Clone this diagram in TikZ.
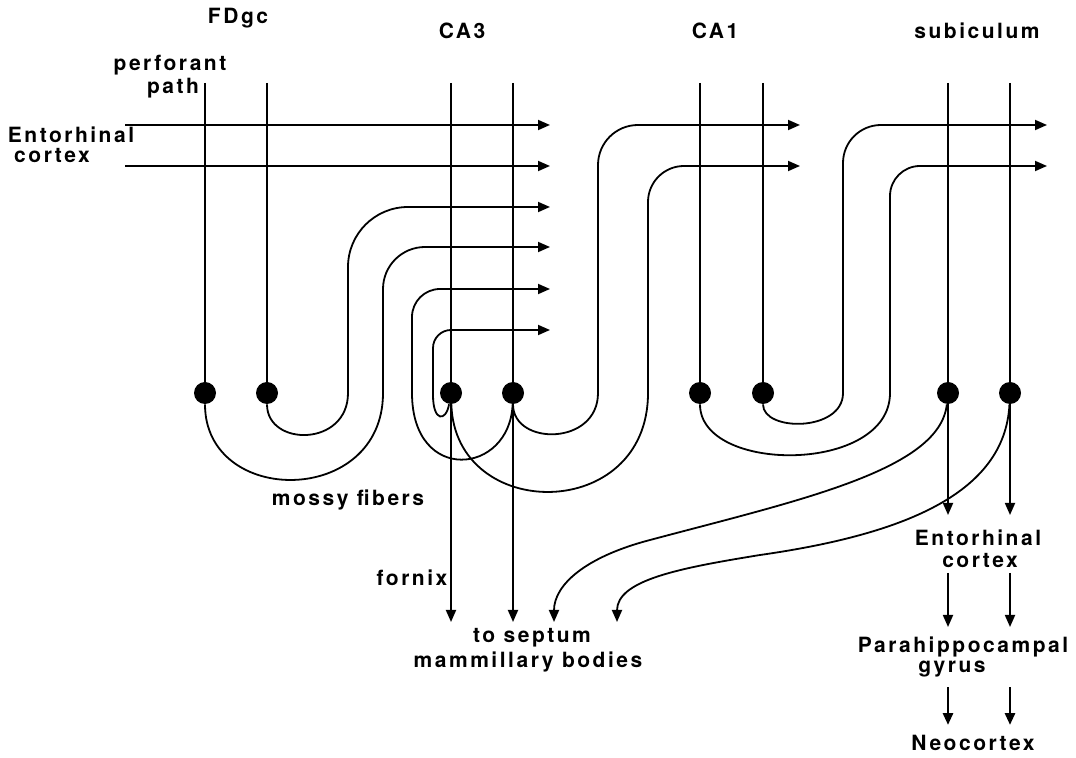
\documentclass[tikz,border=0pt]{standalone}
\usepackage{fontspec}
\setmainfont{TeX Gyre Heros}[LetterSpace=12]
\usetikzlibrary{arrows.meta}
\begin{document}
\begin{tikzpicture}[x=0.5pt,y=-0.5pt,
  fib/.style={line width=0.9pt},
  arr/.style={fib,-{Triangle[length=6pt,width=5pt]}},
  boldarr/.style={line width=1.4pt,-{Triangle[length=6pt,width=5pt]}},
  cell/.style={circle,fill=black,inner sep=0pt,minimum size=11pt},
  lbl/.style={font=\bfseries\fontsize{10.5}{12}\selectfont,inner sep=0pt,text height=7.5pt,text depth=2pt}]
\useasboundingbox (0,0) rectangle (1076,758);
% cells
\node[cell] (fd1) at (205,393) {};
\node[cell] (fd2) at (267,393) {};
\node[cell] (ca3a) at (451,393) {};
\node[cell] (ca3b) at (513,393) {};
\node[cell] (ca1a) at (700,393) {};
\node[cell] (ca1b) at (763,393) {};
\node[cell] (suba) at (948,393) {};
\node[cell] (subb) at (1010,393) {};
% dendrite tops
\coordinate (fd1t) at (205,83);
\coordinate (fd2t) at (267,83);
\coordinate (ca3at) at (451,83);
\coordinate (ca3bt) at (513,83);
\coordinate (ca1at) at (700,83);
\coordinate (ca1bt) at (763,83);
\coordinate (subat) at (948,83);
\coordinate (subbt) at (1010,83);
\foreach \c in {fd1,fd2,ca3a,ca3b,ca1a,ca1b,suba,subb} {\draw[fib] (\c t) -- (\c);}
% perforant path
\coordinate (pp1s) at (125,125); \coordinate (pp1e) at (550,125);
\coordinate (pp2s) at (125,166); \coordinate (pp2e) at (550,166);
\draw[arr] (pp1s) -- (pp1e);
\draw[arr] (pp2s) -- (pp2e);
% arrow ends
\coordinate (mf1e) at (550,247);
\coordinate (mf2e) at (550,207);
\coordinate (rc1e) at (550,289);
\coordinate (rc2e) at (550,330);
\coordinate (sc1e) at (800,125);
\coordinate (sc2e) at (800,166);
\coordinate (sb1e) at (1047,125);
\coordinate (sb2e) at (1047,166);
% mossy fibers
\draw[arr] (fd1) .. controls (205,507) and (383,507) .. (383,393) [rounded corners=21pt] -- (383,247) -- (mf1e);
\draw[arr] (fd2) .. controls (267,447) and (348,447) .. (348,393) [rounded corners=30pt] -- (348,207) -- (mf2e);
% CA3 recurrent collaterals
\draw[arr] (ca3a) .. controls (446,422) and (433,422) .. (433,395) [rounded corners=9pt] -- (433,330) -- (rc2e);
\draw[arr] (ca3b) .. controls (510,475) and (412,485) .. (412,393) [rounded corners=14pt] -- (412,289) -- (rc1e);
% Schaffer collaterals
\draw[arr] (ca3a) .. controls (455,523) and (648,523) .. (648,393) [rounded corners=18pt] -- (648,166) -- (sc2e);
\draw[arr] (ca3b) .. controls (513,446) and (598,446) .. (598,393) [rounded corners=20pt] -- (598,125) -- (sc1e);
% fornix
\coordinate (fx1) at (451,622); \coordinate (fx2) at (513,622);
\draw[arr] (ca3a) -- (fx1);
\draw[arr] (ca3b) -- (fx2);
% CA1 to subiculum
\draw[arr] (ca1a) .. controls (700,474) and (890,474) .. (890,393) [rounded corners=15pt] -- (890,166) -- (sb2e);
\draw[arr] (ca1b) .. controls (763,432) and (843,432) .. (843,393) [rounded corners=19pt] -- (843,125) -- (sb1e);
% subiculum outputs
\coordinate (eca) at (948,515); \coordinate (ecb) at (1010,515);
\draw[arr] (suba) -- (eca);
\draw[arr] (subb) -- (ecb);
\coordinate (sp1) at (554,622); \coordinate (sp2) at (617,622);
\draw[arr] (suba) .. controls (940,470) and (800,500) .. (650,540) .. controls (585,557) and (554,585) .. (sp1);
\draw[arr] (subb) .. controls (1005,495) and (900,535) .. (760,555) .. controls (680,568) and (617,580) .. (sp2);
% lower chain
\coordinate (e2a) at (948,573); \coordinate (p1a) at (948,627);
\coordinate (e2b) at (1010,573); \coordinate (p1b) at (1010,627);
\draw[arr] (e2a) -- (p1a);
\draw[arr] (e2b) -- (p1b);
\coordinate (p2a) at (948,687); \coordinate (n1a) at (948,725);
\coordinate (p2b) at (1010,687); \coordinate (n1b) at (1010,725);
\draw[boldarr] (p2a) -- (n1a);
\draw[boldarr] (p2b) -- (n1b);
% labels
\node[lbl] (tFD) at (238,18) {FDgc};
\node[lbl] (tCA3) at (462,33) {CA3};
\node[lbl] (tCA1) at (715,33) {CA1};
\node[lbl] (tSub) at (977,33) {subiculum};
\node[lbl] (tpp1) at (170,65) {perforant};
\node[lbl] (tpp2) at (173,88) {path};
\node[lbl] (tec1) at (71,137) {Entorhinal};
\node[lbl] (tec2) at (52,157) {cortex};
\node[lbl] (tmf) at (348,500) {mossy fibers};
\node[lbl] (tfx) at (412,580) {fornix};
\node[lbl] (tts) at (532,637) {to septum};
\node[lbl] (tmb) at (528,662) {mammillary bodies};
\node[lbl] (tec3) at (978,540) {Entorhinal};
\node[lbl] (tec4) at (980,562) {cortex};
\node[lbl] (tph1) at (963,647) {Parahippocampal};
\node[lbl] (tph2) at (952,667) {gyrus};
\node[lbl] (tneo) at (973,745) {Neocortex};
\end{tikzpicture}
\end{document}
